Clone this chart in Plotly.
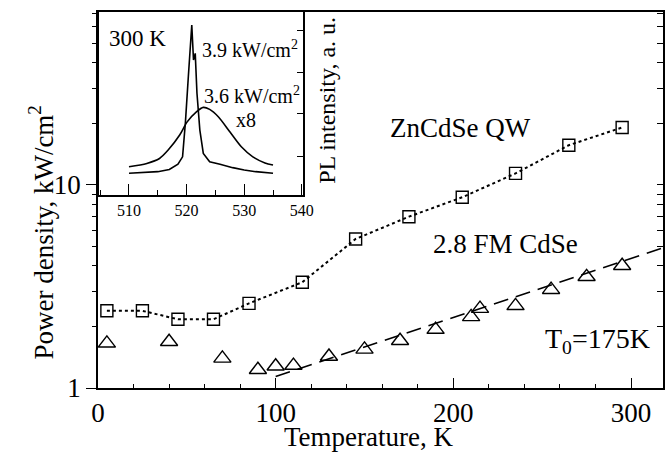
import math
import plotly.graph_objects as go

# ---- main plot data ----
qw_T = [5, 25, 45, 65, 85, 115, 145, 175, 205, 235, 265, 295]
qw_P = [2.40, 2.40, 2.18, 2.18, 2.61, 3.32, 5.42, 6.98, 8.70, 11.4, 15.7, 19.2]

fm_T = [5, 40, 70, 90, 100, 110, 130, 150, 170, 190, 210, 215, 235, 255, 275, 295]
fm_P = [1.66, 1.69, 1.40, 1.23, 1.28, 1.29, 1.43, 1.55, 1.71, 1.94, 2.24, 2.46, 2.54, 3.05, 3.53, 4.00]

fit_T = [100, 318]
fit_P = [1.14, 4.9]

# ---- inset data (PL spectra at 300 K) ----
wl_narrow = [510, 512, 515, 517, 518.5, 519.3, 519.8, 520.3, 520.6, 520.9, 521.2,
             521.5, 521.8, 522.3, 522.9, 524, 525.8, 528, 530, 532, 535]
pl_narrow = [0.119, 0.122, 0.128, 0.140, 0.169, 0.209, 0.40, 0.646, 0.80, 0.929, 0.738,
             0.774, 0.556, 0.355, 0.228, 0.182, 0.169, 0.150, 0.137, 0.128, 0.119]

wl_broad = [510, 513.1, 515.3, 516.8, 518.8, 520.1, 521.7, 522.9, 524, 525.5,
            527.5, 529.5, 531.5, 533.6, 535]
pl_broad = [0.155, 0.173, 0.200, 0.246, 0.328, 0.40, 0.455, 0.479, 0.468, 0.428,
            0.346, 0.264, 0.209, 0.176, 0.164]

y_major = [1, 10]
y_minor = [2, 3, 4, 5, 6, 7, 8, 9, 20, 30, 40, 50, 60, 70]
inset_xticks = [510, 520, 530, 540]
inset_xminor = [505, 515, 525, 535]
inset_yticks = [0.213, 0.443, 0.667, 0.90]

FONT = "Liberation Serif"
K = "black"

fig = go.Figure()

fig.add_trace(go.Scatter(x=qw_T, y=qw_P, mode="lines+markers",
                         line=dict(color=K, width=2, dash="dot"),
                         marker=dict(symbol="square-open", size=12, color=K, line=dict(width=1.4)),
                         showlegend=False))
fig.add_trace(go.Scatter(x=fit_T, y=fit_P, mode="lines",
                         line=dict(color=K, width=1.6, dash="15px,8px"),
                         showlegend=False))
fig.add_trace(go.Scatter(x=fm_T, y=fm_P, mode="markers",
                         marker=dict(symbol="triangle-up-open", size=15, color=K, line=dict(width=1.4)),
                         showlegend=False))

# helper axes traces (empty) so overlay axes are drawn
fig.add_trace(go.Scatter(x=[None], y=[None], yaxis="y2", showlegend=False, hoverinfo="skip"))
fig.add_trace(go.Scatter(x=[None], y=[None], yaxis="y3", showlegend=False, hoverinfo="skip"))

# inset spectra
fig.add_trace(go.Scatter(x=wl_narrow, y=pl_narrow, mode="lines", xaxis="x5", yaxis="y5",
                         line=dict(color=K, width=1.6), showlegend=False))
fig.add_trace(go.Scatter(x=wl_broad, y=pl_broad, mode="lines", xaxis="x5", yaxis="y5",
                         line=dict(color=K, width=1.6, shape="spline", smoothing=0.8),
                         showlegend=False))

ylog_range = [0, 1.852]

fig.update_layout(
    width=665, height=458,
    margin=dict(l=98, r=2, t=12, b=70),
    paper_bgcolor="white", plot_bgcolor="white",
    font=dict(family=FONT, color=K, size=27),
    xaxis=dict(range=[0, 318], tickvals=[0, 100, 200, 300], ticks="inside", ticklen=10,
               tickwidth=1.3, tickcolor=K, showline=True, linecolor=K, linewidth=1.5,
               mirror=True, showgrid=False, zeroline=False, automargin=False,
               minor=dict(dtick=20, tick0=0, ticks="inside", ticklen=4, tickcolor=K, showgrid=False),
               tickfont=dict(size=27)),
    yaxis=dict(type="log", range=ylog_range, tickvals=y_major, ticktext=["1", "10"],
               ticks="outside", ticklen=10, tickwidth=1.3, tickcolor=K, automargin=False,
               showline=True, linecolor=K, linewidth=1.5, showgrid=False, zeroline=False,
               tickfont=dict(size=27)),
    yaxis2=dict(type="log", range=ylog_range, overlaying="y", side="left", automargin=False,
                tickvals=y_minor, ticks="outside", ticklen=5, tickwidth=1.2, tickcolor=K,
                showticklabels=False, showgrid=False, zeroline=False, showline=False),
    yaxis3=dict(type="log", range=ylog_range, overlaying="y", side="right", automargin=False,
                tickvals=y_major + y_minor, ticks="inside", ticklen=6, tickwidth=1.2, tickcolor=K,
                showticklabels=False, showgrid=False, zeroline=False,
                showline=True, linecolor=K, linewidth=1.5),
    xaxis5=dict(domain=[0.0018, 0.3628], anchor="y5", range=[504.8, 540.2], automargin=False,
                tickvals=inset_xticks, ticks="inside", ticklen=11, tickwidth=1.2, tickcolor=K,
                minor=dict(tickvals=inset_xminor, ticks="inside", ticklen=5, tickcolor=K, showgrid=False),
                showline=True, linecolor=K, linewidth=1.5, mirror=True,
                showgrid=False, zeroline=False, tickfont=dict(size=16)),
    yaxis5=dict(domain=[0.513, 1.0], anchor="x5", range=[0, 1], side="right", automargin=False,
                tickvals=inset_yticks, ticks="inside", ticklen=6, tickwidth=1.2, tickcolor=K,
                showticklabels=False, showline=True, linecolor=K, linewidth=1.5, mirror=True,
                showgrid=False, zeroline=False),
)

L = math.log10
ann = [
    dict(x=204, y=L(19.1), xref="x", yref="y", text="ZnCdSe QW", size=27),
    dict(x=229.5, y=L(5.12), xref="x", yref="y", text="2.8 FM CdSe", size=27),
    dict(x=281, y=L(1.72), xref="x", yref="y", text="T<sub>0</sub>=175K", size=28),
    dict(x=511.4, y=0.855, xref="x5", yref="y5", text="300 K", size=23),
    dict(x=531.0, y=0.80, xref="x5", yref="y5", text="3.9 kW/cm<sup>2</sup>", size=20),
    dict(x=531.3, y=0.546, xref="x5", yref="y5", text="3.6 kW/cm<sup>2</sup>", size=20),
    dict(x=530.3, y=0.41, xref="x5", yref="y5", text="x8", size=20),
    dict(x=0.405, y=0.766, xref="paper", yref="paper", text="PL intensity, a. u.",
         textangle=-90, size=24),
    # axis titles
    dict(x=0.48, y=-0.130, xref="paper", yref="paper", text="Temperature, K", size=27),
    dict(x=-0.100, y=0.412, xref="paper", yref="paper", text="Power density, kW/cm<sup>2</sup>",
         textangle=-90, size=27),
]
for a in ann:
    s = a.pop("size")
    fig.add_annotation(showarrow=False, xanchor="center", yanchor="middle",
                       font=dict(family=FONT, color=K, size=s), **a)

fig.write_html("out.html", config={"displayModeBar": False},
               post_script="document.body.style.margin='0';document.body.style.overflow='hidden';")
